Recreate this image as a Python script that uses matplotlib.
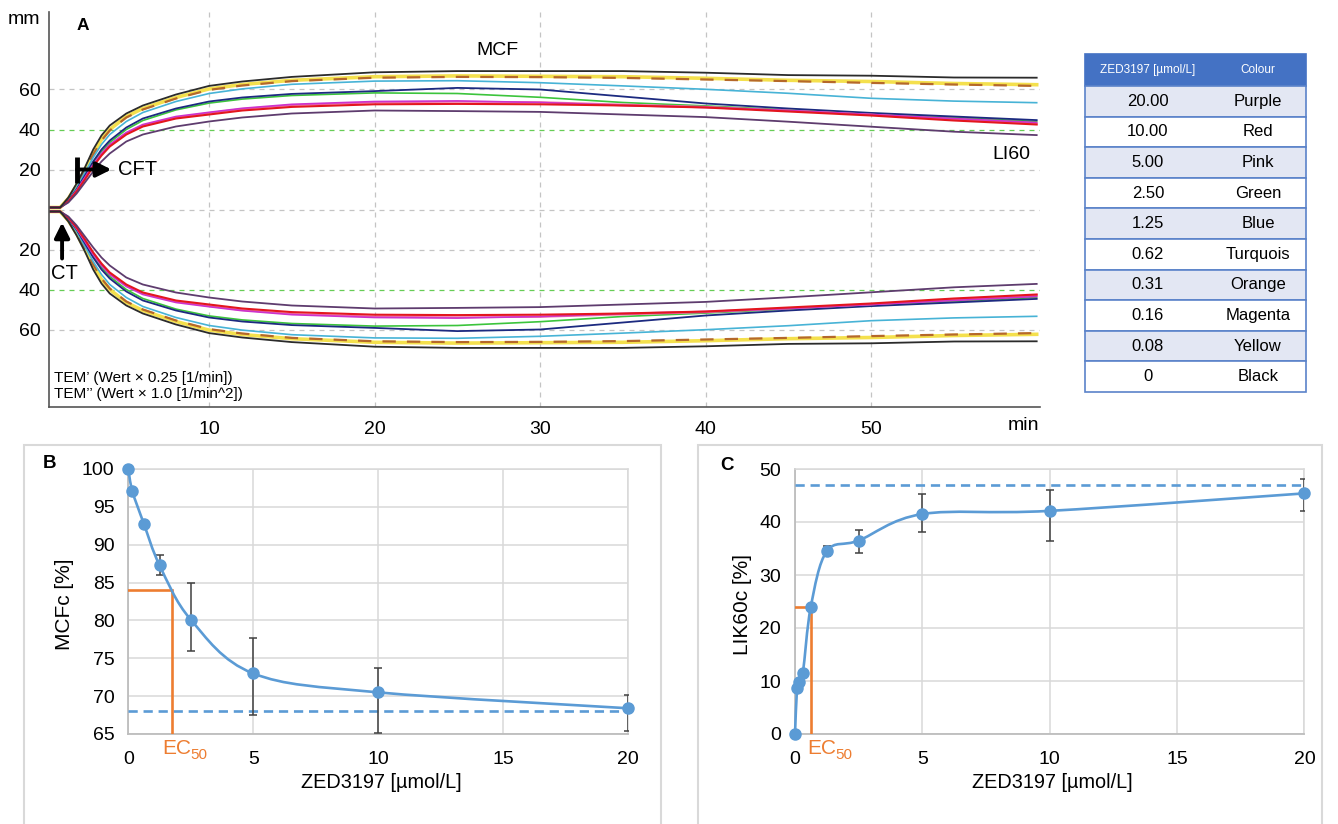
import numpy as np
import matplotlib
matplotlib.use("Agg")
import matplotlib.pyplot as plt
from matplotlib.patches import Rectangle, PathPatch
from matplotlib.path import Path

plt.rcParams['font.family'] = ['Liberation Sans', 'DejaVu Sans']

# ---------------- data ----------------
# Panel A: TEM traces (amplitude in mm, upper half; lower half is the mirror)
t_min = [0, 1.0, 1.5, 2, 2.5, 3, 3.5, 4, 5, 6, 8, 10, 12, 15, 20, 25, 30, 35, 40, 45, 50, 55, 60]
amp_0_black = [1, 1, 6, 13, 21, 30, 37, 42, 48, 52, 57.5, 61.8, 64, 66.3, 68.6, 69.2, 69.2, 69.2, 68.4, 67.2, 66.9, 66.0, 65.9]
amp_008_yellow = [1, 1, 5.5, 12, 20, 28, 35, 40, 46.5, 50.5, 56, 60.3, 62.5, 64.6, 66.4, 66.8, 66.6, 66.4, 65.6, 64.6, 64.0, 63.0, 62.4]
amp_031_orange = [1, 1, 5.5, 11.5, 19.5, 27.5, 34.5, 39.5, 46, 50, 55.5, 59.8, 62, 64.2, 65.9, 66.3, 66.2, 65.8, 65.0, 64.2, 63.3, 62.5, 61.8]
amp_062_turq = [1, 1, 5, 11, 18.5, 26, 32.5, 37.5, 44, 48.5, 54, 58, 60.3, 62.6, 64.2, 64.4, 63.4, 61.8, 60.1, 58.1, 55.6, 54.2, 53.4]
amp_125_blue = [1, 1, 4.5, 10, 17, 24, 30, 34.5, 41, 45.5, 50.5, 54, 56, 57.8, 59.2, 60.8, 60.0, 56.5, 53.0, 50.5, 48.3, 46.5, 44.7]
amp_25_green = [1, 1, 4.5, 10, 16.5, 23.5, 29, 33.5, 40, 44.5, 49.8, 53.2, 55.2, 57, 58.3, 58.0, 56.1, 53.5, 51.8, 49.8, 48.0, 46.0, 44.0]
amp_5_pink = [1, 1, 4, 9.5, 15.5, 22, 27.5, 32, 38, 42, 46, 48.3, 50.3, 52.2, 53.5, 53.9, 53.7, 52.5, 51.4, 49.5, 47.5, 45.0, 43.0]
amp_016_magenta = [1, 1, 4, 9.5, 16, 22.5, 28, 32.5, 38.5, 42.5, 46.5, 48.6, 50.6, 52.6, 54.0, 54.3, 53.5, 52.0, 51.0, 49.5, 47.5, 45.5, 43.5]
amp_10_red = [1, 1, 4, 9, 15, 21.5, 27, 31.5, 37.5, 41.5, 45.5, 47.5, 49.5, 51.3, 52.6, 52.8, 52.6, 52.0, 51.0, 49.0, 47.0, 44.5, 42.5]
amp_20_purple = [1, 1, 3.5, 8, 13.5, 19, 24, 28, 34, 37.5, 41.5, 44, 46, 48, 49.5, 49.2, 48.8, 47.5, 46.2, 43.9, 41.4, 38.9, 37.2]

A_xticks = [10, 20, 30, 40, 50]
A_yticks = [60, 40, 20, -20, -40, -60]

# Table
table_conc = ['20.00', '10.00', '5.00', '2.50', '1.25', '0.62', '0.31', '0.16', '0.08', '0']
table_colour = ['Purple', 'Red', 'Pink', 'Green', 'Blue', 'Turquois', 'Orange', 'Magenta', 'Yellow', 'Black']

# Panel B: MCFc
B_x = [0, 0.16, 0.62, 1.25, 2.5, 5, 10, 20]
B_y = [100, 97.1, 92.8, 87.3, 80.1, 73.0, 70.5, 68.4]
B_err_x = [1.25, 2.5, 5, 10, 20]
B_err_y = [87.3, 80.1, 73.0, 70.5, 68.4]
B_err_lo = [1.3, 4.1, 5.5, 5.4, 3.0]
B_err_hi = [1.3, 4.8, 4.7, 3.2, 1.7]
B_plateau = 68.0
B_ec50_x, B_ec50_y = 1.73, 84.0

# Panel C: LIK60c
C_x = [0, 0.08, 0.16, 0.31, 0.62, 1.25, 2.5, 5, 10, 20]
C_y = [0, 8.6, 9.75, 11.6, 24.0, 34.5, 36.5, 41.5, 42.1, 45.4]
C_err_x = [1.25, 2.5, 5, 10, 20]
C_err_y = [34.5, 36.5, 41.5, 42.1, 45.4]
C_err_lo = [0.9, 2.4, 3.3, 5.7, 3.3]
C_err_hi = [1.0, 2.0, 3.8, 3.9, 2.7]
C_plateau = 47.0
C_ec50_x, C_ec50_y = 0.62, 24.0

# ---------------- figure ----------------
W, H = 1338, 824
fig = plt.figure(figsize=(W / 100, H / 100), dpi=100)


def add_ax(l, t, r, b):
    return fig.add_axes([l / W, 1 - b / H, (r - l) / W, (b - t) / H])


def ftext(x, y, s, **kw):
    return fig.text(x / W, 1 - y / H, s, **kw)


# ---------------- Panel A ----------------
axA = add_ax(49, 12, 1040, 407)
axA.set_xlim(0.33, 60.2)
axA.set_ylim(-98.75, 98.75)
for v in A_yticks + [0]:
    col = '#66cc55' if abs(v) == 40 else '#c4c4c4'
    axA.axhline(v, color=col, lw=0.9, ls=(0, (4, 4)), zorder=0)
for v in A_xticks:
    axA.axvline(v, color='#c4c4c4', lw=0.9, ls=(0, (4, 4)), zorder=0)

series = [
    (amp_008_yellow, '#f4e04d', 2.6, '-'),
    (amp_031_orange, '#b5682a', 1.6, (0, (6, 5))),
    (amp_062_turq, '#47b3d6', 1.2, '-'),
    (amp_25_green, '#3cc43c', 1.2, '-'),
    (amp_125_blue, '#1c2a80', 1.3, '-'),
    (amp_5_pink, '#f06aa8', 1.3, '-'),
    (amp_016_magenta, '#cc33cc', 1.2, '-'),
    (amp_10_red, '#e3161e', 1.5, '-'),
    (amp_20_purple, '#5e3c6e', 1.3, '-'),
    (amp_0_black, '#2b2b2b', 1.3, '-'),
]
t_arr = np.array(t_min)
for vals, col, lw, ls in series:
    v = np.array(vals)
    axA.plot(t_arr, v, color=col, lw=lw, ls=ls, zorder=2)
    axA.plot(t_arr, -v, color=col, lw=lw, ls=ls, zorder=2)

axA.set_xticks(A_xticks)
axA.set_xticklabels([str(v) for v in A_xticks])
axA.set_yticks(A_yticks)
axA.set_yticklabels([str(abs(v)) for v in A_yticks])
axA.tick_params(length=0, labelsize=14, pad=6)
axA.tick_params(axis='x', pad=10)
for s in ['top', 'right']:
    axA.spines[s].set_visible(False)
for s in ['left', 'bottom']:
    axA.spines[s].set_color('#555555')
    axA.spines[s].set_linewidth(1.2)

# annotations in A
axA.plot([2.02, 2.02], [13.25, 26.25], color='black', lw=3.5, solid_capstyle='butt', zorder=5)
axA.annotate('', xy=(4.1, 20), xytext=(2.02, 20),
             arrowprops=dict(arrowstyle='-|>,head_length=0.9,head_width=0.45', color='black', lw=2.8,
                             shrinkA=0, shrinkB=0), zorder=5)
axA.text(4.5, 20, 'CFT', fontsize=14.5, va='center', ha='left')
axA.annotate('', xy=(1.12, -6.5), xytext=(1.12, -24.5),
             arrowprops=dict(arrowstyle='-|>,head_length=0.9,head_width=0.45', color='black', lw=2.8,
                             shrinkA=0, shrinkB=0), zorder=5)
axA.text(1.25, -31.8, 'CT', fontsize=14.5, va='center', ha='center')
axA.text(27.4, 79.5, 'MCF', fontsize=14, va='center', ha='center')
axA.text(58.5, 27.3, 'LI60', fontsize=14, va='center', ha='center')

ftext(24, 20, 'mm', fontsize=14, ha='center', va='center')
ftext(83, 25, 'A', fontsize=12.5, fontweight='bold', ha='center', va='center')
ftext(54, 378, "TEM\u2019 (Wert \u00d7 0.25 [1/min])", fontsize=11, ha='left', va='center')
ftext(54, 394, "TEM\u2019\u2019 (Wert \u00d7 1.0 [1/min^2])", fontsize=11, ha='left', va='center')
ftext(1023, 425, 'min', fontsize=14, ha='center', va='center')

# ---------------- Table ----------------
tl, tr = 1085, 1306
t_top, head_b = 54, 86
row_h = (392 - head_b) / len(table_conc)
fig.patches.append(Rectangle((tl / W, 1 - head_b / H), (tr - tl) / W, (head_b - t_top) / H,
                             transform=fig.transFigure, facecolor='#4472c4', edgecolor='#4472c4', lw=1.2))
ftext(1148, (t_top + head_b) / 2, 'ZED3197 [\u00b5mol/L]', fontsize=8.5, color='white', ha='center', va='center')
ftext(1258, (t_top + head_b) / 2, 'Colour', fontsize=8.5, color='white', ha='center', va='center')
for i, (c, n) in enumerate(zip(table_conc, table_colour)):
    top = head_b + i * row_h
    fc = '#e3e7f3' if i % 2 == 0 else 'white'
    fig.patches.append(Rectangle((tl / W, 1 - (top + row_h) / H), (tr - tl) / W, row_h / H,
                                 transform=fig.transFigure, facecolor=fc, edgecolor='#5b83c9', lw=1.2))
    ftext(1148, top + row_h / 2, c, fontsize=12, ha='center', va='center')
    ftext(1258, top + row_h / 2, n, fontsize=12, ha='center', va='center')

# ---------------- Panels B and C ----------------
BLUE = '#5b9bd5'
ORANGE = '#ed7d31'


def smooth_path(ax, xs, ys):
    pts = ax.transData.transform(np.column_stack([xs, ys]))
    n = len(pts)
    verts = [pts[0]]
    codes = [Path.MOVETO]
    for i in range(n - 1):
        p0 = pts[i - 1] if i > 0 else pts[i]
        p1 = pts[i]
        p2 = pts[i + 1]
        p3 = pts[i + 2] if i + 2 < n else pts[i + 1]
        c1 = p1 + (p2 - p0) / 6.0
        c2 = p2 - (p3 - p1) / 6.0
        verts += [c1, c2, p2]
        codes += [Path.CURVE4] * 3
    verts = ax.transData.inverted().transform(np.array(verts))
    return Path(verts, codes)


def dose_panel(l, t, r, b, ylim, yticks, xs, ys, ex, ey, elo, ehi, plateau, ecx, ecy,
               frame, letter, letter_xy, ylabel, ylabel_x, ec_x):
    fig.patches.append(Rectangle((frame[0] / W, 1 - frame[3] / H), (frame[2] - frame[0]) / W,
                                 (frame[3] - frame[1]) / H, transform=fig.transFigure,
                                 facecolor='none', edgecolor='#d9d9d9', lw=1.5))
    ax = add_ax(l, t, r, b)
    ax.set_xlim(0, 20)
    ax.set_ylim(*ylim)
    ax.set_xticks([0, 5, 10, 15, 20])
    ax.set_yticks(yticks)
    ax.grid(True, color='#d9d9d9', lw=1.1)
    ax.set_axisbelow(True)
    for s in ['top', 'right']:
        ax.spines[s].set_color('#d9d9d9')
        ax.spines[s].set_linewidth(1.1)
    for s in ['left', 'bottom']:
        ax.spines[s].set_color('#bdbdbd')
        ax.spines[s].set_linewidth(1.3)
    ax.tick_params(length=0, labelsize=14)
    ax.tick_params(axis='y', pad=10)
    ax.tick_params(axis='x', pad=12)
    # plateau
    ax.plot([0, 20], [plateau, plateau], color=BLUE, lw=1.9, ls=(0, (3.5, 2.2)), zorder=3)
    # EC50 lines
    ax.plot([0, ecx, ecx], [ecy, ecy, ylim[0]], color=ORANGE, lw=1.9, zorder=3,
            solid_joinstyle='miter')
    # error bars
    ax.errorbar(ex, ey, yerr=[elo, ehi], fmt='none', ecolor='#404040', elinewidth=1.1,
                capsize=3.2, capthick=1.1, zorder=4)
    # smooth curve
    ax.add_patch(PathPatch(smooth_path(ax, xs, ys), facecolor='none', edgecolor=BLUE, lw=1.9,
                           zorder=5, clip_on=False))
    ax.plot(xs, ys, 'o', color=BLUE, ms=8, zorder=6, clip_on=False)
    ftext(letter_xy[0], letter_xy[1], letter, fontsize=13.5, fontweight='bold', ha='center', va='center')
    ftext(ylabel_x, (t + b) / 2 + 3, ylabel, fontsize=15, rotation=90, ha='center', va='center')
    ftext((l + r) / 2 + 3, 782, 'ZED3197 [\u00b5mol/L]', fontsize=14.3, ha='center', va='center')
    ftext(ec_x, 748, 'EC', fontsize=15, color=ORANGE, ha='left', va='center')
    ftext(ec_x + 28.5, 755, '50', fontsize=11, color=ORANGE, ha='left', va='center')
    return ax


axB = dose_panel(128.3, 469, 628, 734, (65, 100), list(range(65, 101, 5)), B_x, B_y,
                 B_err_x, B_err_y, B_err_lo, B_err_hi, B_plateau, B_ec50_x, B_ec50_y,
                 (24, 445, 661, 840), 'B', (50, 464), 'MCFc [%]', 65, 162)
axC = dose_panel(795, 469, 1304.4, 734, (0, 50), list(range(0, 51, 10)), C_x, C_y,
                 C_err_x, C_err_y, C_err_lo, C_err_hi, C_plateau, C_ec50_x, C_ec50_y,
                 (698, 445, 1322, 840), 'C', (727, 465), 'LIK60c [%]', 742, 807)

fig.savefig('out.png', dpi=100)
